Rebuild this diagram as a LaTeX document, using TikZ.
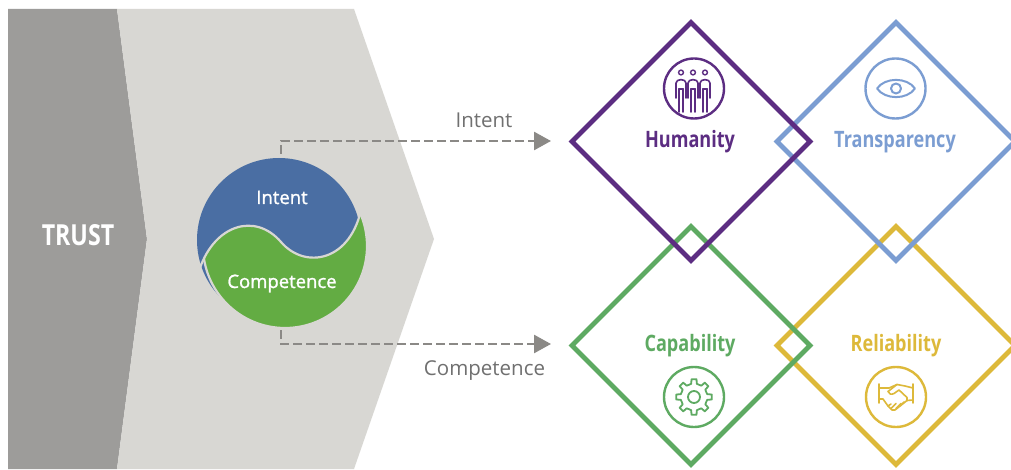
\documentclass[tikz,border=0pt]{standalone}
\usepackage{fontspec}
\setmainfont{Open Sans}
\newfontfamily\condb{Open Sans}[FakeStretch=0.8]
\newfontfamily\semib{Open Sans}[FakeBold=1.3]
\usetikzlibrary{shapes.geometric,arrows.meta}
\definecolor{dkgray}{HTML}{9D9C9A}
\definecolor{ltgray}{HTML}{D8D7D3}
\definecolor{yyblue}{HTML}{4A6EA3}
\definecolor{yygreen}{HTML}{63AC43}
\definecolor{arrgray}{HTML}{8B8986}
\definecolor{lblgray}{HTML}{707070}
\definecolor{cpurple}{HTML}{5C2D82}
\definecolor{cblue}{HTML}{7B9DD2}
\definecolor{cgreen}{HTML}{5EAA62}
\definecolor{cyellow}{HTML}{DDB93A}
\tikzset{
  dia/.style={diamond, minimum width=240pt, minimum height=240pt, inner sep=0pt, line width=4.8pt},
  dimname/.style={anchor=base, font=\condb\bfseries\fontsize{22.6}{24}\selectfont},
  grlabel/.style={anchor=base, text=lblgray, font=\fontsize{20.5}{22}\selectfont},
  inlabel/.style={anchor=base, text=white, font=\semib\fontsize{18.5}{20}\selectfont},
  dasharrow/.style={draw=arrgray, line width=2.6pt, dash pattern=on 9pt off 4pt, -{Triangle[length=17pt,width=18pt]}},
  iconring/.style={line width=2.4pt},
  icon/.style={line width=1.6pt, line cap=round, line join=round}
}
\begin{document}
\begin{tikzpicture}[x=1pt,y=-1pt]
\useasboundingbox (0,0) rectangle (1011,470);
\fill[white] (0,0) rectangle (1011,470);
% chevrons
\fill[dkgray] (8,9) -- (117,9) -- (147,239) -- (117,469) -- (8,469) -- cycle;
\fill[ltgray] (117,9) -- (354,9) -- (434,239) -- (354,469) -- (117,469) -- (147,239) -- cycle;
\node[anchor=base, text=white, font=\condb\bfseries\fontsize{29}{30}\selectfont] (trust) at (78,245) {TRUST};
% yin-yang
\node[circle, minimum size=170pt, inner sep=0pt] (yy) at (282,242) {};
\fill[yyblue] (279,240) circle[radius=82pt];
\begin{scope}
  \clip (150,268) -- (200,268) .. controls (215,225) and (255,212) .. (281,242)
        .. controls (305,270) and (352,262) .. (362,205) -- (420,205) -- (420,400) -- (150,400) -- cycle;
  \filldraw[fill=yygreen, draw=ltgray, line width=2.2pt] (285,246) circle[radius=82pt];
\end{scope}
\draw[ltgray, line width=2.2pt] (200,268) .. controls (215,225) and (255,212) .. (281,242)
        .. controls (305,270) and (352,262) .. (362,205);
\node[inlabel] (lint) at (282,204) {Intent};
\node[inlabel] (lcomp) at (282,288) {Competence};
% arrows
\coordinate (ts) at (281,154);
\coordinate (te) at (551,141);
\coordinate (bs) at (281,330);
\coordinate (be) at (551,344);
\draw[dasharrow] (ts) |- (te);
\draw[dasharrow] (bs) |- (be);
\node[grlabel] (gint) at (484,128) {Intent};
\node[grlabel] (gcomp) at (484.5,375) {Competence};
% diamonds
\node[dia, draw=cyellow] (rel) at (896,345.5) {};
\node[dia, draw=cblue] (tra) at (896,141.5) {};
\node[dia, draw=cgreen] (cap) at (691,345.5) {};
\node[dia, draw=cpurple] (hum) at (691,141.5) {};
\node[dimname, text=cpurple] (thum) at (690,148) {Humanity};
\node[dimname, text=cblue] (ttra) at (895,148) {Transparency};
\node[dimname, text=cgreen] (tcap) at (690,351) {Capability};
\node[dimname, text=cyellow] (trel) at (896,351) {Reliability};
% icon: people
\begin{scope}[draw=cpurple]
  \draw[iconring, cpurple] (694,88.5) circle[radius=30pt];
  \foreach \c in {681,693,705}{
    \draw[icon, cpurple, line width=1.4pt] (\c,72.5) circle[radius=2.4pt];
    \draw[icon, cpurple] (\c-5,98) -- (\c-5,83) .. controls (\c-5,78.5) and (\c+5,78.5) .. (\c+5,83) -- (\c+5,98);
    \draw[icon, cpurple] (\c-2.2,89) -- (\c-2.2,112);
    \draw[icon, cpurple] (\c+2.2,89) -- (\c+2.2,112);
    \draw[icon, cpurple] (\c-2.2,89) -- (\c+2.2,89);
  }
\end{scope}
% icon: eye
\draw[iconring, cblue] (895.5,88.5) circle[radius=30pt];
\draw[icon, cblue, line width=2pt] (877,88.5) .. controls (885,77) and (907,77) .. (915,88.5)
      .. controls (907,100) and (885,100) .. (877,88.5) -- cycle;
\draw[icon, cblue, line width=2pt] (896,88.5) circle[radius=5pt];
% icon: gear
\draw[iconring, cgreen] (694,397) circle[radius=30pt];
\begin{scope}[shift={(694,397)}]
  \draw[icon, cgreen, line width=1.8pt] (-12:13.5)
    \foreach \a in {0,45,...,315}{ -- (\a-12:13.5) -- (\a-8:18) -- (\a+8:18) -- (\a+12:13.5) -- (\a+22.5:13.2) } -- cycle;
  \draw[icon, cgreen, line width=1.8pt] (0,0) circle[radius=6pt];
\end{scope}
% icon: handshake
\draw[iconring, cyellow] (896,397) circle[radius=30pt];
\begin{scope}[cyellow]
  \draw[icon, cyellow] (879,384) -- (879,403);
  \draw[icon, cyellow] (913,384) -- (913,403);
  \draw[icon, cyellow] (879,388) -- (889,388) -- (897,384.5) -- (905,386) -- (913,388);
  \draw[icon, cyellow] (897,384.5) -- (888,391.5) .. controls (889,394) and (891,395) .. (894,393.5) -- (899,390) -- (907,397.5) -- (907,400.5);
  \draw[icon, cyellow] (913,400) -- (907,400.5);
  \draw[icon, cyellow] (879,399) -- (883,399) -- (888,406) -- (892,410) -- (895,410) -- (907,400.5);
  \draw[icon, cyellow] (888,406) -- (891,404);
  \draw[icon, cyellow] (891,408.5) -- (896,403.5);
  \draw[icon, cyellow] (896,408.5) -- (901,403.5);
  \draw[icon, cyellow] (900,406) -- (904,402);
\end{scope}
\end{tikzpicture}
\end{document}
